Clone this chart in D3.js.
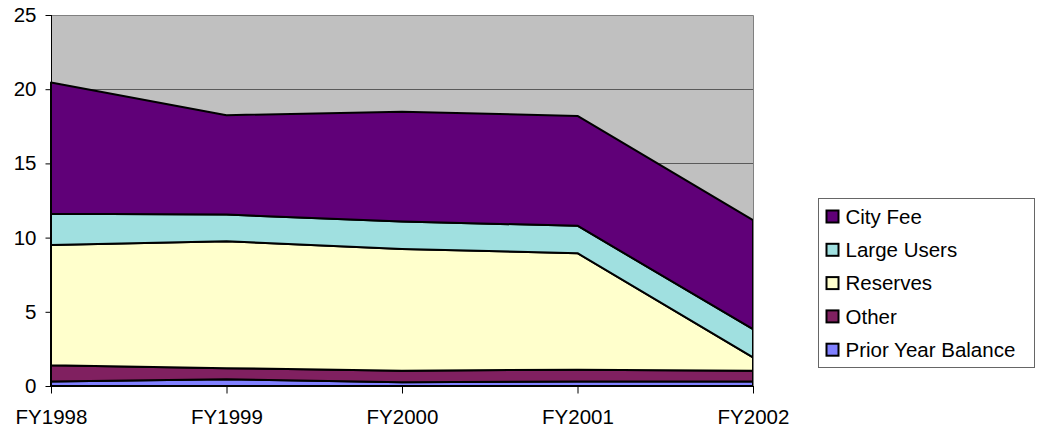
<!DOCTYPE html>
<html>
<head>
<meta charset="utf-8">
<script src="https://cdn.jsdelivr.net/npm/d3@7/dist/d3.min.js"></script>
<style>
  html, body { margin: 0; padding: 0; background: #fff; }
  svg { display: block; font-family: "Liberation Sans", Arial, sans-serif; }
</style>
</head>
<body>
<svg id="chart" width="1037" height="432"></svg>
<script>
// Fiscal years along the x axis
const years = ["FY1998", "FY1999", "FY2000", "FY2001", "FY2002"];

// Revenue sources, stacked bottom to top
const priorYearBalance = [0.30, 0.45, 0.25, 0.30, 0.30];
const other            = [1.10, 0.75, 0.78, 0.80, 0.73];
const reserves         = [8.10, 8.55, 8.20, 7.85, 0.90];
const largeUsers       = [2.10, 1.80, 1.85, 1.85, 1.90];
const cityFee          = [8.85, 6.70, 7.40, 7.40, 7.35];

const yTicks = [0, 5, 10, 15, 20, 25];

const seriesDefs = [
  { key: "Prior Year Balance", values: priorYearBalance, color: "#8080ff" },
  { key: "Other",              values: other,            color: "#802060" },
  { key: "Reserves",           values: reserves,         color: "#ffffcc" },
  { key: "Large Users",        values: largeUsers,       color: "#a0e0e0" },
  { key: "City Fee",           values: cityFee,          color: "#600078" }
];

const rows = years.map((y, i) => {
  const r = { year: y };
  seriesDefs.forEach(s => { r[s.key] = s.values[i]; });
  return r;
});

const FONT = 20.5;
const svg = d3.select("#chart");
const plot = { left: 51, right: 753, top: 15, bottom: 386 };

const x = d3.scalePoint().domain(years).range([plot.left, plot.right]);
const y = d3.scaleLinear().domain([0, 25]).range([plot.bottom, plot.top]);

// plot area background
svg.append("rect")
  .attr("x", plot.left).attr("y", plot.top)
  .attr("width", plot.right - plot.left).attr("height", plot.bottom - plot.top)
  .attr("fill", "#c0c0c0");

// horizontal gridlines
svg.append("g").selectAll("line")
  .data(yTicks.filter(t => t > 0 && t < 25))
  .join("line")
  .attr("x1", plot.left).attr("x2", plot.right)
  .attr("y1", d => Math.round(y(d)) + 0.5).attr("y2", d => Math.round(y(d)) + 0.5)
  .attr("stroke", "#5a5a5a").attr("stroke-width", 1);

// stacked areas
const stack = d3.stack().keys(seriesDefs.map(s => s.key));
const layers = stack(rows);
const area = d3.area()
  .x(d => x(d.data.year))
  .y0(d => y(d[0]))
  .y1(d => y(d[1]));

svg.append("g").selectAll("path")
  .data(layers)
  .join("path")
  .attr("d", area)
  .attr("fill", (d, i) => seriesDefs[i].color)
  .attr("stroke", "#000")
  .attr("stroke-width", 2)
  .attr("stroke-linejoin", "round");

// plot border (top and right)
svg.append("path")
  .attr("d", `M${plot.left},${plot.top + 0.5}H${plot.right + 0.5}V${plot.bottom}`)
  .attr("fill", "none").attr("stroke", "#808080").attr("stroke-width", 1);

// y axis
const yAxis = d3.axisLeft(y).tickValues(yTicks).tickSize(6).tickPadding(9);
const gy = svg.append("g")
  .attr("transform", `translate(${plot.left + 0.5},0)`)
  .call(yAxis);
gy.select(".domain").attr("stroke", "#000").attr("d", `M0,${plot.top}V${plot.bottom + 6}`);
gy.selectAll(".tick line").attr("stroke", "#000");
gy.selectAll(".tick text")
  .attr("font-size", FONT).attr("fill", "#000")
  .attr("font-family", "'Liberation Sans', Arial, sans-serif");

// x axis
const xAxis = d3.axisBottom(x).tickSize(7).tickPadding(16);
const gx = svg.append("g")
  .attr("transform", `translate(0,${plot.bottom + 0.5})`)
  .call(xAxis);
gx.select(".domain").attr("stroke", "#000").attr("d", `M${plot.left},0H${plot.right + 1}`);
gx.selectAll(".tick line").attr("stroke", "#000");
gx.selectAll(".tick text")
  .attr("font-size", FONT).attr("fill", "#000")
  .attr("font-family", "'Liberation Sans', Arial, sans-serif");

// legend (top entry is the top layer)
const legendItems = seriesDefs.slice().reverse();
const legend = svg.append("g").attr("transform", "translate(818,198)");
legend.append("rect")
  .attr("x", 0.5).attr("y", 0.5).attr("width", 216).attr("height", 169)
  .attr("fill", "#fff").attr("stroke", "#666").attr("stroke-width", 1);
const li = legend.selectAll("g.item")
  .data(legendItems)
  .join("g")
  .attr("class", "item")
  .attr("transform", (d, i) => `translate(0,${18.5 + i * 33.3})`);
li.append("rect")
  .attr("x", 8.5).attr("y", -6).attr("width", 12).attr("height", 12)
  .attr("fill", d => d.color).attr("stroke", "#000").attr("stroke-width", 2);
li.append("text")
  .attr("x", 27.5).attr("y", 0).attr("dy", "0.36em")
  .attr("font-size", FONT).attr("fill", "#000")
  .text(d => d.key);
</script>
</body>
</html>
